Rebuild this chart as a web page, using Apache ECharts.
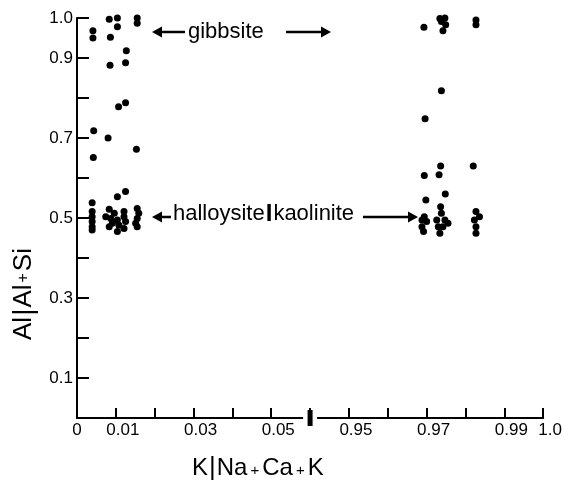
<!DOCTYPE html>
<html><head><meta charset="utf-8">
<script src="https://cdn.jsdelivr.net/npm/echarts@6/dist/echarts.min.js"></script>
<style>html,body{margin:0;padding:0;background:#fff}#c{width:565px;height:483px}</style>
</head><body><div id="c"></div>
<script>
// K/(Na+Ca+K) vs Al/(Al+Si) -- low-K samples
const lowK = [
  [0.0083,0.997],[0.0104,1.0],[0.0104,0.978],[0.0155,1.0],[0.0155,0.987],
  [0.0041,0.968],[0.0041,0.95],[0.0086,0.952],[0.0127,0.918],[0.0125,0.888],
  [0.0085,0.882],[0.0125,0.788],[0.0107,0.778],[0.0043,0.718],[0.0080,0.700],
  [0.0153,0.672],[0.0042,0.651],[0.0125,0.566],[0.0104,0.553],[0.0039,0.538],
  [0.0039,0.516],[0.0039,0.503],[0.0039,0.491],[0.0039,0.478],[0.0039,0.470],
  [0.0083,0.522],[0.0074,0.503],[0.0087,0.499],[0.0096,0.512],[0.0104,0.495],
  [0.0091,0.487],[0.0108,0.482],[0.0121,0.516],[0.0121,0.503],[0.0125,0.491],
  [0.0121,0.474],[0.0104,0.466],[0.0083,0.478],[0.0155,0.524],[0.0159,0.512],
  [0.0155,0.499],[0.0151,0.487],[0.0155,0.478]
];
// high-K samples
const highK = [
  [0.9693,0.977],[0.9734,0.999],[0.9747,1.0],[0.9738,0.991],[0.9749,0.983],
  [0.9742,0.968],[0.9827,0.995],[0.9827,0.983],[0.9738,0.818],[0.9696,0.748],
  [0.9736,0.630],[0.9820,0.630],[0.9694,0.606],[0.9732,0.608],[0.9748,0.560],
  [0.9698,0.545],[0.9736,0.528],[0.9688,0.495],[0.9700,0.491],[0.9688,0.478],
  [0.9692,0.466],[0.9694,0.503],[0.9738,0.512],[0.9726,0.495],[0.9747,0.495],
  [0.9755,0.487],[0.9730,0.478],[0.9742,0.478],[0.9734,0.462],[0.9827,0.516],
  [0.9836,0.503],[0.9823,0.495],[0.9827,0.478],[0.9827,0.462]
];
const xTickLabels = ['0','0.01','','0.03','','0.05','','0.95','','0.97','','0.99','1.0'];
const yTickLabels = ['','0.1','','0.3','','0.5','','0.7','','0.9','1.0'];
const breakValue = 0.06;      // position of the axis break on the compressed axis
const breakShift = 0.88;      // values past the break are shifted by this amount

function toAxis(p){ return [p[0] > 0.5 ? p[0] - breakShift : p[0], p[1]]; }

const FONT = '"Liberation Sans", Arial, Helvetica, sans-serif';
const chart = echarts.init(document.getElementById('c'), null, {renderer:'canvas'});

function arrow(x1, x2, y, headLeft){
  const tip = headLeft ? x1 : x2;
  const dir = headLeft ? 1 : -1;
  return [
    {type:'line', shape:{x1: headLeft ? x1+8 : x1, y1:y, x2: headLeft ? x2 : x2-8, y2:y},
     style:{stroke:'#000', lineWidth:2.5}},
    {type:'polygon', shape:{points:[[tip,y],[tip+dir*10,y-5.5],[tip+dir*10,y+5.5]]},
     style:{fill:'#000'}}
  ];
}

const option = {
  backgroundColor:'#fff',
  animation:false,
  grid:{left:77, right:15, top:18, bottom:65, containLabel:false},
  xAxis:{
    type:'value', min:0, max:0.12, interval:0.01,
    axisLine:{show:true, onZero:false, lineStyle:{color:'#000', width:2}},
    axisTick:{show:true, inside:true, length:10, lineStyle:{color:'#000', width:2}},
    splitLine:{show:false},
    axisLabel:{
      margin:4, color:'#000', fontFamily:FONT, fontSize:17,
      formatter:function(v){
        const i = Math.round(v*100);
        const t = xTickLabels[i] || '';
        if(!t) return '';
        return i === 0 ? '{z|' + t + '}' : '{a|' + t + '}';
      },
      rich:{
        z:{fontFamily:FONT, fontSize:17, color:'#000'},
        a:{fontFamily:FONT, fontSize:17, color:'#000', padding:[0,0,0,14]}
      }
    }
  },
  yAxis:{
    type:'value', min:0, max:1, interval:0.1,
    axisLine:{show:true, onZero:false, lineStyle:{color:'#000', width:2}},
    axisTick:{show:true, inside:true, length:12, lineStyle:{color:'#000', width:2}},
    splitLine:{show:false},
    axisLabel:{
      margin:4, color:'#000', fontFamily:FONT, fontSize:17, padding:[7,0,0,0],
      formatter:function(v){ return yTickLabels[Math.round(v*10)] || ''; }
    }
  },
  series:[
    {type:'scatter', name:'low K', data:lowK.map(toAxis), symbol:'circle', symbolSize:7,
     itemStyle:{color:'#000', opacity:1}, clip:false, z:3},
    {type:'scatter', name:'high K', data:highK.map(toAxis), symbol:'circle', symbolSize:7,
     itemStyle:{color:'#000', opacity:1}, clip:false, z:3},
    {type:'scatter', name:'break gap', data:[[breakValue,0]], symbol:'rect', symbolSize:[14,5],
     itemStyle:{color:'#fff', opacity:1}, clip:false, z:4, silent:true},
    {type:'scatter', name:'break', data:[[breakValue,0]], symbol:'rect', symbolSize:[5,16],
     itemStyle:{color:'#000', opacity:1}, clip:false, z:5, silent:true}
  ],
  graphic:[
    {type:'text', x:188, y:32,
     style:{text:'gibbsite', font:'22px ' + FONT, fill:'#000', verticalAlign:'middle', align:'left'}},
    ...arrow(152, 185, 32, true),
    ...arrow(286, 331, 32, false),
    {type:'text', x:173, y:214,
     style:{text:'{t|halloysite}{b|I}{t|kaolinite}', verticalAlign:'middle', align:'left',
       rich:{t:{font:'22px ' + FONT, fill:'#000', color:'#000'},
             b:{font:'bold 24px ' + FONT, fill:'#000', color:'#000', padding:[0,1,0,1]}}}},
    ...arrow(152, 171, 217, true),
    ...arrow(363, 418, 217, false),
    {type:'text', x:192, y:468,
     style:{text:'{t|K}{s||}{t|Na}{p|+}{t|Ca}{p|+}{t|K}', verticalAlign:'middle', align:'left',
       rich:{t:{font:'24px ' + FONT, color:'#000'},
             s:{font:'26px ' + FONT, color:'#000', padding:[0,1,0,1]},
             p:{font:'15px ' + FONT, color:'#000', padding:[6,3,0,3]}}}},
    {type:'text', x:24, y:294, rotation:Math.PI/2,
     style:{text:'{t|Al}{s||}{t|Al}{p|+}{t|Si}', verticalAlign:'middle', align:'center',
       rich:{t:{font:'26px ' + FONT, color:'#000'},
             s:{font:'28px ' + FONT, color:'#000', padding:[0,1,0,1]},
             p:{font:'16px ' + FONT, color:'#000', padding:[0,2,0,2]}}}}
  ]
};
chart.setOption(option);
</script>
</body></html>
